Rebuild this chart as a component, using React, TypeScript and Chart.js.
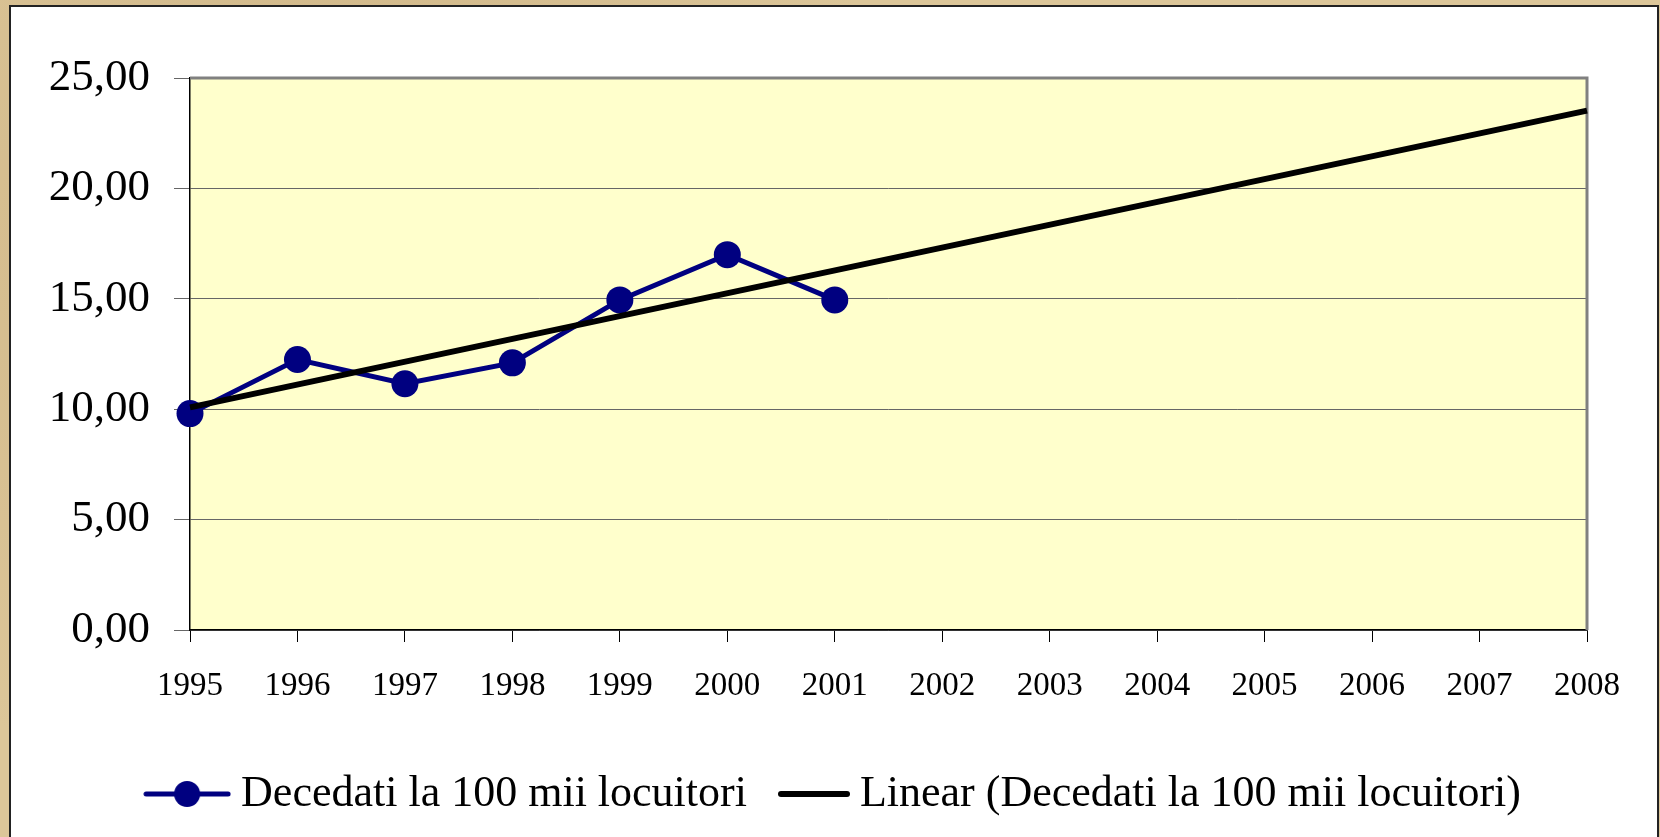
import React, { useEffect, useRef } from "react";
import { Chart, registerables } from "chart.js";

Chart.register(...registerables);

const years = ["1995", "1996", "1997", "1998", "1999", "2000", "2001", "2002", "2003", "2004", "2005", "2006", "2007", "2008"];
const deaths = [9.8, 12.25, 11.15, 12.1, 14.95, 17.0, 14.95, null, null, null, null, null, null, null];
const trend = [10.08, null, null, null, null, null, null, null, null, null, null, null, null, 23.52];
const yTickLabels = ["0,00", "5,00", "10,00", "15,00", "20,00", "25,00"];
const seriesName = "Decedati la 100 mii locuitori";
const trendName = "Linear (Decedati la 100 mii locuitori)";

const FONT = "'Liberation Serif', 'Times New Roman', serif";

function makeMarker(withDot: boolean): HTMLCanvasElement {
  const c = document.createElement("canvas");
  c.width = 88;
  c.height = 30;
  const ctx = c.getContext("2d")!;
  ctx.lineCap = "round";
  if (withDot) {
    ctx.strokeStyle = "#000080";
    ctx.lineWidth = 5;
    ctx.beginPath();
    ctx.moveTo(3, 15);
    ctx.lineTo(85, 15);
    ctx.stroke();
    ctx.fillStyle = "#000080";
    ctx.beginPath();
    ctx.arc(44, 15, 13, 0, Math.PI * 2);
    ctx.fill();
  } else {
    ctx.strokeStyle = "#000000";
    ctx.lineWidth = 6;
    ctx.beginPath();
    ctx.moveTo(19, 15);
    ctx.lineTo(85, 15);
    ctx.stroke();
  }
  return c;
}

const areaPlugin = {
  id: "areaPlugin",
  afterLayout(chart: any) {
    const lg = chart.legend;
    if (lg) {
      lg.left += 21.5;
      lg.right += 21.5;
    }
  },
  beforeDraw(chart: any) {
    const { ctx, chartArea } = chart;
    ctx.save();
    ctx.fillStyle = "#FFFFCC";
    ctx.fillRect(chartArea.left, chartArea.top, chartArea.right - chartArea.left, chartArea.bottom - chartArea.top);
    ctx.restore();
  },
  beforeDatasetsDraw(chart: any) {
    const { ctx, chartArea } = chart;
    ctx.save();
    ctx.strokeStyle = "#808080";
    ctx.lineWidth = 3;
    ctx.beginPath();
    ctx.moveTo(chartArea.left, chartArea.top);
    ctx.lineTo(chartArea.right, chartArea.top);
    ctx.lineTo(chartArea.right, chartArea.bottom);
    ctx.stroke();
    ctx.restore();
  },
};

export default function App() {
  const ref = useRef<HTMLCanvasElement>(null);

  useEffect(() => {
    const markerA = makeMarker(true);
    const markerB = makeMarker(false);
    const chart = new Chart(ref.current!, {
      type: "line",
      data: {
        labels: years,
        datasets: [
          {
            label: seriesName,
            data: deaths,
            borderColor: "#000080",
            backgroundColor: "#000080",
            borderWidth: 5,
            pointRadius: 13.5,
            pointBackgroundColor: "#000080",
            pointBorderWidth: 0,
            tension: 0,
            clip: false,
            order: 1,
          },
          {
            label: trendName,
            data: trend,
            borderColor: "#000000",
            borderWidth: 6,
            pointRadius: 0,
            spanGaps: true,
            tension: 0,
            clip: false,
            order: 0,
          },
        ],
      },
      options: {
        responsive: false,
        animation: false,
        layout: { padding: { left: 46, right: 73, top: 78, bottom: 0 } },
        plugins: {
          tooltip: { enabled: false },
          legend: {
            position: "bottom",
            labels: {
              usePointStyle: true,
              pointStyleWidth: 64,
              padding: 27,
              color: "#000",
              font: { family: FONT, size: 44 },
              generateLabels: () => [
                { text: seriesName, pointStyle: markerA, fillStyle: "#000080", strokeStyle: "#000080", lineWidth: 0, datasetIndex: 0, hidden: false, fontColor: "#000" },
                { text: trendName, pointStyle: markerB, fillStyle: "#000", strokeStyle: "#000", lineWidth: 0, datasetIndex: 1, hidden: false, fontColor: "#000" },
              ] as any,
            },
          },
        },
        scales: {
          x: {
            offset: false,
            grid: { drawOnChartArea: false, drawTicks: true, tickLength: 12, color: "#000", lineWidth: 1 },
            border: { color: "#000", width: 1.5 },
            ticks: { color: "#000", font: { family: FONT, size: 33 }, padding: 25, maxRotation: 0, autoSkip: false },
            afterFit: (s: any) => { s.height = 115; },
          },
          y: {
            min: 0,
            max: 25,
            grid: { color: "#666", lineWidth: 1, tickLength: 16, drawTicks: true },
            border: { color: "#000", width: 1.5 },
            ticks: {
              stepSize: 5,
              color: "#000",
              padding: 24,
              font: { family: FONT, size: 45 },
              callback: (_v: any, i: number) => yTickLabels[i],
            },
            afterFit: (s: any) => { s.width = 144; },
          },
        },
      },
      plugins: [areaPlugin],
    });
    return () => chart.destroy();
  }, []);

  return (
    <div
      style={{
        position: "fixed",
        left: 0,
        top: 0,
        width: 1660,
        height: 837,
        overflow: "hidden",
        background:
          "radial-gradient(circle at 20% 30%, rgba(190,160,110,0.5) 0, rgba(190,160,110,0) 40%), radial-gradient(circle at 70% 80%, rgba(240,225,190,0.6) 0, rgba(240,225,190,0) 35%), #dcc699",
      }}
    >
      <div
        style={{
          position: "absolute",
          left: 9,
          top: 5,
          width: 1646,
          height: 860,
          background: "#fff",
          border: "2px solid #222",
        }}
      />
      <canvas ref={ref} width={1660} height={826} style={{ position: "absolute", left: 0, top: 0, display: "block" }} />
    </div>
  );
}
